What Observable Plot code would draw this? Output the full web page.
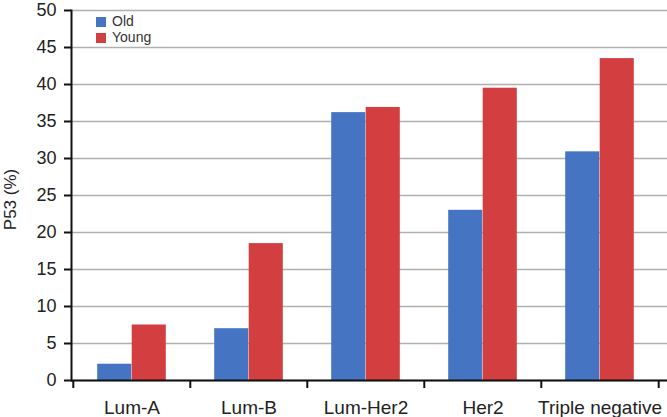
<!DOCTYPE html>
<html>
<head>
<meta charset="utf-8">
<script src="https://cdn.jsdelivr.net/npm/d3@7"></script>
<script src="https://cdn.jsdelivr.net/npm/@observablehq/plot@0.6"></script>
<style>
  body { margin: 0; background: #fff; }
  #wrap { position: relative; width: 667px; height: 417px; font-family: "Liberation Sans", Arial, sans-serif; }
  #legend { position: absolute; left: 96px; top: 13px; font-size: 14px; color: #333; line-height: 16px; }
  #legend .sw { display: inline-block; width: 10px; height: 10px; margin-right: 6px; vertical-align: -1px; }
</style>
</head>
<body>
<div id="wrap"><div id="legend"></div></div>
<script>
const categories = ["Lum-A", "Lum-B", "Lum-Her2", "Her2", "Triple negative"];
const series = ["Old", "Young"];
const oldValues = [2.2, 7.0, 36.2, 23.0, 30.9];
const youngValues = [7.5, 18.5, 36.9, 39.5, 43.5];
const yTicks = [0, 5, 10, 15, 20, 25, 30, 35, 40, 45, 50];
const yLabel = "P53 (%)";
const colors = { Old: "#4575c2", Young: "#d33f40" };

const data = [];
categories.forEach((c, i) => {
  data.push({ category: c, group: "Old", value: oldValues[i] });
  data.push({ category: c, group: "Young", value: youngValues[i] });
});

const x0 = 72, x1 = 659;
const bw = (x1 - x0) / categories.length;
const barW = 34.5;
const outer = (bw - 2 * barW) / 2;

const chart = Plot.plot({
  width: 667,
  height: 417,
  marginLeft: 71,
  marginRight: 0,
  marginTop: 10,
  marginBottom: 37,
  style: { fontFamily: "Liberation Sans, Arial, sans-serif", background: "#fff" },
  x: { domain: categories, range: [x0, x1], padding: 0 },
  y: { domain: [0, 50] },
  marks: [
    Plot.ruleY(yTicks, { stroke: "#b0b0b0", strokeWidth: 1.6 }),
    Plot.barY(data.filter(d => d.group === "Old"), {
      x: "category", y: "value", fill: colors.Old,
      insetLeft: outer, insetRight: bw - outer - barW
    }),
    Plot.barY(data.filter(d => d.group === "Young"), {
      x: "category", y: "value", fill: colors.Young,
      insetLeft: outer + barW, insetRight: outer
    }),
    Plot.axisY({
      ticks: yTicks, tickSize: 7, tickPadding: 8, fontSize: 18, stroke: "#111", strokeWidth: 2,
      color: "#222", label: null
    }),
    Plot.text([yLabel], { frameAnchor: "left", textAnchor: "middle", rotate: -90, dx: -61, dy: 4, fontSize: 17, fill: "#222" }),
    Plot.axisX({ tickSize: 0, tickPadding: 20, fontSize: 19, color: "#222", label: null }),
    Plot.axisX({ tickSize: 8, text: null, dx: -bw / 2, stroke: "#111", strokeWidth: 2, label: null }),
    Plot.axisX({ ticks: [categories[categories.length - 1]], tickSize: 8, text: null, dx: bw / 2, stroke: "#111", strokeWidth: 2, label: null }),
    Plot.frame({ anchor: "left", stroke: "#111", strokeWidth: 2 }),
    Plot.ruleY([0], { stroke: "#111", strokeWidth: 2 })
  ]
});

document.getElementById("wrap").prepend(chart);
const lg = document.getElementById("legend");
series.forEach(s => {
  const row = document.createElement("div");
  row.innerHTML = `<span class="sw" style="background:${colors[s]}"></span>${s}`;
  lg.appendChild(row);
});
</script>
</body>
</html>
